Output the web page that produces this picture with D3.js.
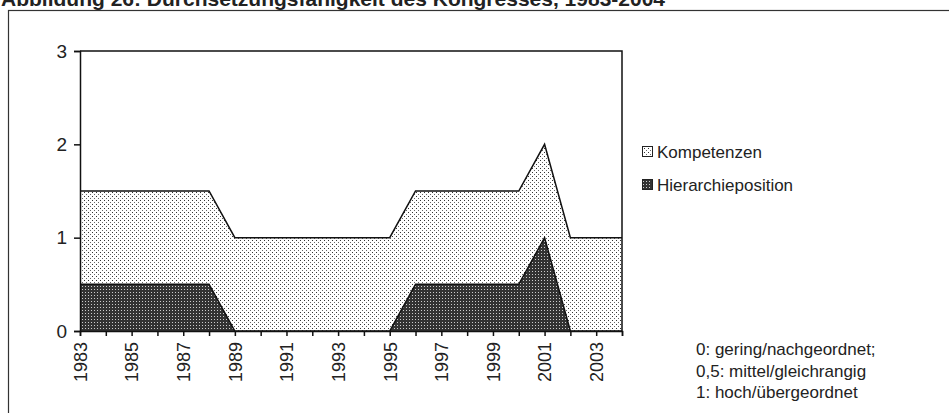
<!DOCTYPE html>
<html><head><meta charset="utf-8">
<script src="https://cdn.jsdelivr.net/npm/d3@7"></script>
<style>body{margin:0;background:#fff}svg{display:block;font-family:Arial,"Liberation Sans",sans-serif}</style>
</head><body><svg id="c" width="949" height="413"></svg>
<script>
const years = d3.range(1983, 2005);
const hierarchieposition = [0.5,0.5,0.5,0.5,0.5,0.5,0,0,0,0,0,0,0,0.5,0.5,0.5,0.5,0.5,1,0,0,0];
const kompetenzen = [1,1,1,1,1,1,1,1,1,1,1,1,1,1,1,1,1,1,1,1,1,1];
const yTicks = [0,1,2,3];
const xLabels = d3.range(1983, 2004, 2);
const legendLabels = ["Kompetenzen","Hierarchieposition"];
const notes = ["0: gering/nachgeordnet;","0,5: mittel/gleichrangig","1: hoch/übergeordnet"];
const title = "Abbildung 26: Durchsetzungsfähigkeit des Kongresses, 1983-2004";

const rows = years.map((y,i)=>({year:y, Hierarchieposition:hierarchieposition[i], Kompetenzen:kompetenzen[i]}));
const svg = d3.select("#c");
const defs = svg.append("defs");
const p1 = defs.append("pattern").attr("id","pK").attr("width",4).attr("height",4).attr("patternUnits","userSpaceOnUse");
p1.append("rect").attr("width",4).attr("height",4).attr("fill","#fff");
p1.append("rect").attr("x",0).attr("y",0).attr("width",1).attr("height",1).attr("fill","#333");
p1.append("rect").attr("x",2).attr("y",2).attr("width",1).attr("height",1).attr("fill","#666");
const p2 = defs.append("pattern").attr("id","pH").attr("width",3).attr("height",3).attr("patternUnits","userSpaceOnUse");
p2.append("rect").attr("width",3).attr("height",3).attr("fill","#333");
p2.append("rect").attr("x",1).attr("y",1).attr("width",1).attr("height",1).attr("fill","#ccc");

// title (cut at top, as in the reference)
svg.append("text").attr("x",1).attr("y",6).attr("font-weight","bold").attr("font-size",21).attr("fill","#222").text(title);
// outer frame
svg.append("rect").attr("x",8.5).attr("y",10.5).attr("width",1000).attr("height",500).attr("fill","none").attr("stroke","#333").attr("stroke-width",1.2);

const x = d3.scaleLinear().domain([1983,2004]).range([80,622]);
const y = d3.scaleLinear().domain([0,3]).range([331,51]);

const stack = d3.stack().keys(["Hierarchieposition","Kompetenzen"]);
const series = stack(rows);
const area = d3.area().x(d=>x(d.data.year)).y0(d=>y(d[0])).y1(d=>y(d[1]));
const line = d3.line().x(d=>x(d.data.year)).y(d=>y(d[1]));
const fills = {Hierarchieposition:"url(#pH)", Kompetenzen:"url(#pK)"};
[series[1], series[0]].forEach(s=>{
  svg.append("path").datum(s).attr("d",area).attr("fill",fills[s.key]);
});
[series[1], series[0]].forEach(s=>{
  svg.append("path").datum(s).attr("d",line).attr("fill","none").attr("stroke","#111").attr("stroke-width",1.5);
});
svg.append("path").attr("d",`M${x(1983)},${y(3)}H${x(2004)}V${y(0)}`).attr("fill","none").attr("stroke","#111").attr("stroke-width",1.5);

const ff = "Arial,'Liberation Sans',sans-serif";
const ya = svg.append("g").attr("transform",`translate(${x(1983)},0)`)
  .call(d3.axisLeft(y).tickValues(yTicks).tickFormat(d3.format("d")).tickSize(6).tickPadding(7));
ya.select(".domain").attr("stroke","#111").attr("stroke-width",1.5);
ya.selectAll(".tick line").attr("stroke","#111").attr("stroke-width",1.5);
ya.selectAll("text").attr("font-size",19).attr("fill","#222").attr("font-family",ff);

const xa = svg.append("g").attr("transform",`translate(0,${y(0)})`)
  .call(d3.axisBottom(x).tickValues(years).tickFormat(d=> xLabels.includes(d)? String(d):"").tickSize(5).tickPadding(4));
xa.select(".domain").attr("stroke","#111").attr("stroke-width",1.5);
xa.selectAll(".tick line").attr("stroke","#111").attr("stroke-width",1.5);
xa.selectAll("text").attr("font-size",18).attr("fill","#222").attr("font-family",ff)
  .attr("transform","rotate(-90)").attr("text-anchor","end").attr("y",0).attr("x",-11).attr("dy","0.35em");

const lg = svg.append("g");
legendLabels.forEach((l,i)=>{
  const yy = 152 + i*33;
  lg.append("rect").attr("x",642.5).attr("y",yy-5.5).attr("width",10).attr("height",10).attr("fill", i===0?"url(#pK)":"url(#pH)").attr("stroke","#222").attr("stroke-width",1);
  lg.append("text").attr("x",657).attr("y",yy+6).attr("font-size",17).attr("fill","#222").text(l);
});
notes.forEach((n,i)=>{
  svg.append("text").attr("x",696).attr("y",355 + i*21.5).attr("font-size",17).attr("fill","#222").text(n);
});
</script></body></html>
